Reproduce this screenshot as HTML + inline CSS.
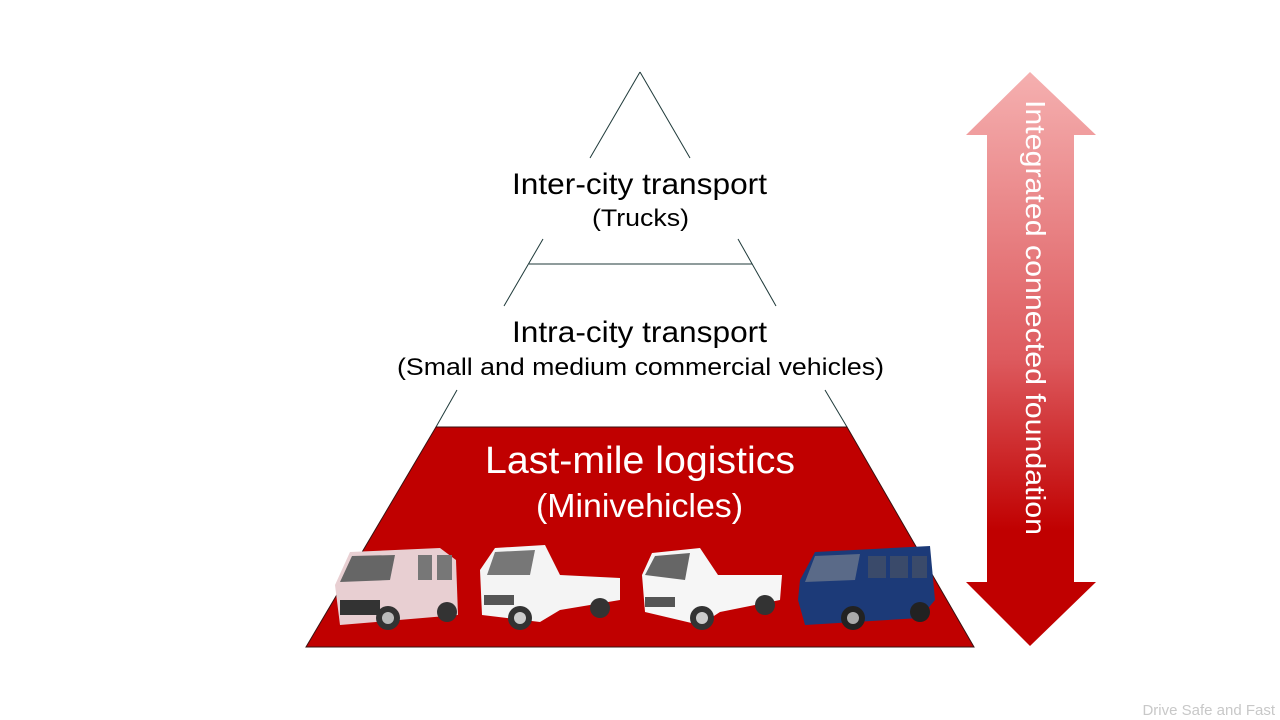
<!DOCTYPE html>
<html><head><style>body{margin:0;background:#fff;}svg{display:block;font-family:"Liberation Sans",Arial,sans-serif;}</style></head><body>
<svg width="1280" height="720" viewBox="0 0 1280 720">
<defs>
<linearGradient id="g" x1="0" y1="0" x2="0" y2="1">
<stop offset="0" stop-color="#f5b0b0"/><stop offset="0.5" stop-color="#dd5a5e"/><stop offset="0.8" stop-color="#c00000"/><stop offset="1" stop-color="#c00000"/>
</linearGradient>
</defs>
<g stroke="#1f3a3a" stroke-width="1" fill="none">
<line x1="640" y1="72" x2="590" y2="158"/><line x1="640" y1="72" x2="690" y2="158"/>
<line x1="543" y1="239" x2="504" y2="306"/><line x1="738" y1="239" x2="776" y2="306"/>
<line x1="529" y1="264" x2="752" y2="264"/>
<line x1="457" y1="390" x2="436" y2="427"/><line x1="825" y1="390" x2="847" y2="427"/>
</g>
<polygon points="436,427 847,427 974,647 306,647" fill="#c00000" stroke="#3a1010" stroke-width="1"/>
<text x="512" y="194" font-size="30" textLength="255" lengthAdjust="spacingAndGlyphs" fill="#000">Inter-city transport</text>
<text x="592" y="226" font-size="24" textLength="97" lengthAdjust="spacingAndGlyphs" fill="#000">(Trucks)</text>
<text x="512" y="342" font-size="30" textLength="255" lengthAdjust="spacingAndGlyphs" fill="#000">Intra-city transport</text>
<text x="397" y="375" font-size="24" textLength="487" lengthAdjust="spacingAndGlyphs" fill="#000">(Small and medium commercial vehicles)</text>
<text x="485" y="473" font-size="38" textLength="310" lengthAdjust="spacingAndGlyphs" fill="#fff">Last-mile logistics</text>
<text x="536" y="517" font-size="33" textLength="207" lengthAdjust="spacingAndGlyphs" fill="#fff">(Minivehicles)</text>
<!-- pink van -->
<g>
<path d="M335,585 L350,552 L440,548 L456,560 L458,615 L340,625 Z" fill="#e8cfd2"/>
<path d="M352,556 L395,555 L390,580 L340,582 Z" fill="#666"/>
<rect x="418" y="555" width="14" height="25" fill="#777"/><rect x="437" y="555" width="15" height="25" fill="#777"/>
<rect x="340" y="600" width="40" height="15" fill="#333"/>
<circle cx="388" cy="618" r="12" fill="#333"/><circle cx="388" cy="618" r="6" fill="#bbb"/>
<circle cx="447" cy="612" r="10" fill="#333"/>
</g>
<!-- white truck 1 -->
<g>
<path d="M480,570 L495,548 L545,545 L560,575 L620,578 L620,600 L560,610 L540,622 L482,615 Z" fill="#f4f4f4"/>
<path d="M495,552 L535,550 L530,575 L487,575 Z" fill="#777"/>
<rect x="484" y="595" width="30" height="10" fill="#555"/>
<circle cx="520" cy="618" r="12" fill="#333"/><circle cx="520" cy="618" r="6" fill="#ccc"/>
<circle cx="600" cy="608" r="10" fill="#333"/>
</g>
<!-- white truck 2 -->
<g>
<path d="M642,575 L652,553 L700,548 L718,575 L782,575 L780,600 L720,612 L700,625 L645,612 Z" fill="#f6f6f6"/>
<path d="M655,556 L690,553 L685,580 L645,575 Z" fill="#666"/>
<rect x="645" y="597" width="30" height="10" fill="#555"/>
<circle cx="702" cy="618" r="12" fill="#333"/><circle cx="702" cy="618" r="6" fill="#ccc"/>
<circle cx="765" cy="605" r="10" fill="#333"/>
</g>
<!-- blue van -->
<g>
<path d="M800,580 L815,552 L930,546 L935,600 L920,618 L805,625 L798,600 Z" fill="#1c3a78"/>
<path d="M815,556 L860,554 L855,580 L805,582 Z" fill="#5a6a88"/>
<rect x="868" y="556" width="18" height="22" fill="#3a4a6a"/><rect x="890" y="556" width="18" height="22" fill="#3a4a6a"/><rect x="912" y="556" width="15" height="22" fill="#3a4a6a"/>
<circle cx="853" cy="618" r="12" fill="#222"/><circle cx="853" cy="618" r="6" fill="#aaa"/>
<circle cx="920" cy="612" r="10" fill="#222"/>
</g>
<polygon points="1030,72 1096,135 1074,135 1074,582 1096,582 1030,646 966,582 987,582 987,135 966,135" fill="url(#g)"/>
<text transform="translate(1026,100) rotate(90)" font-size="28" textLength="435" lengthAdjust="spacingAndGlyphs" fill="#fff">Integrated connected foundation</text>
<text x="1275" y="715" font-size="15" text-anchor="end" fill="#c8c8c8">Drive Safe and Fast</text>
</svg>
</body></html>
